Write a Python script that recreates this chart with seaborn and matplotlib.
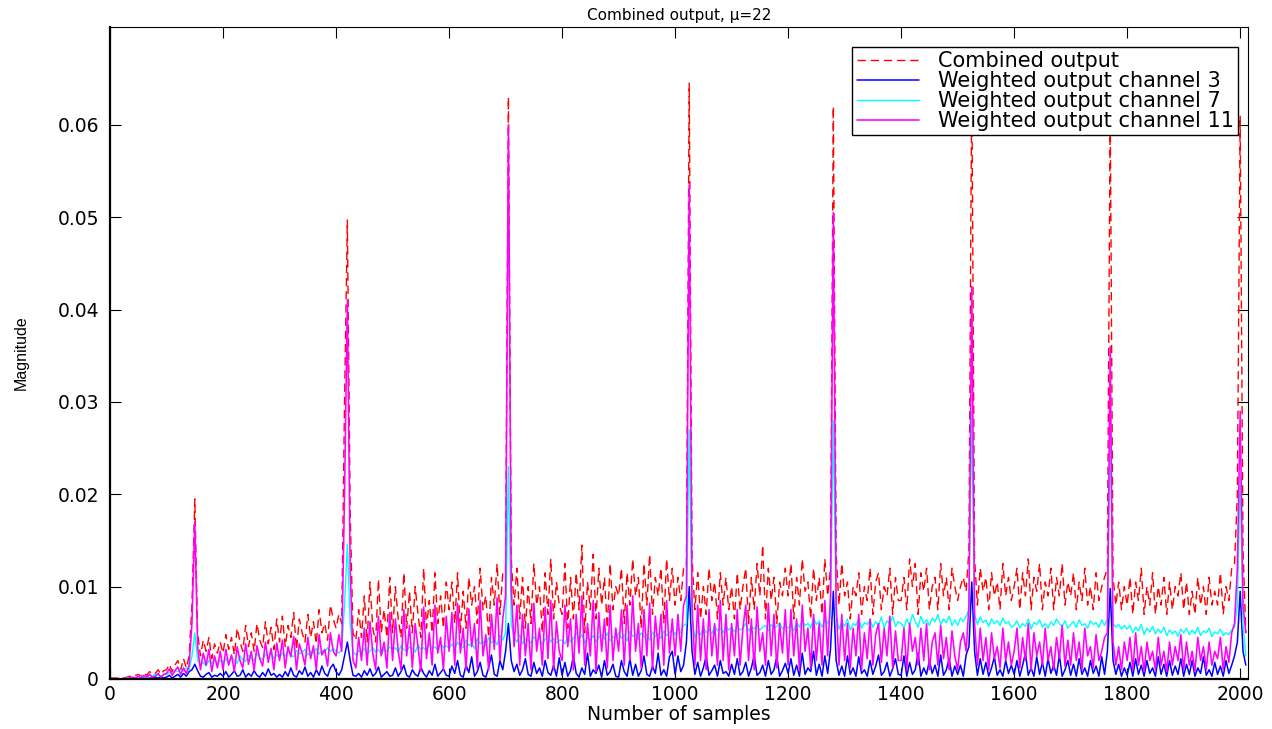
import numpy as np
import pandas as pd
import matplotlib
matplotlib.use("Agg")
import matplotlib.pyplot as plt
import seaborn as sns

sns.set_style("ticks")
plt.rcParams["font.family"] = ["DejaVu Sans"]
plt.rcParams["text.color"] = "black"
plt.rcParams["axes.labelcolor"] = "black"
plt.rcParams["xtick.color"] = "black"
plt.rcParams["ytick.color"] = "black"

# sample index, one value every 5 samples (0 .. 2010)
samples = list(range(0, 2015, 5))

# values, in units of 1e-3 (one row = 100 samples)
combined = [
    0.1, 0.1, 0.1, 0.1, 0.2, 0.1, 0.2, 0.3, 0.2, 0.4, 0.5, 0.3, 0.7, 0.4, 0.8, 0.5, 0.6, 1.0, 0.5, 0.9,
    1.0, 1.6, 0.8, 1.5, 2.0, 1.0, 2.2, 1.2, 2.5, 8.0, 19.5, 5.0, 2.5, 4.2, 3.0, 4.5, 2.2, 3.8, 2.8, 4.0,
    2.8, 4.8, 3.2, 4.5, 2.6, 5.5, 4.0, 3.0, 5.8, 3.5, 5.0, 3.0, 6.0, 4.2, 3.4, 6.2, 3.8, 5.6, 3.2, 6.5,
    4.0, 6.8, 3.5, 5.8, 4.5, 7.2, 3.2, 6.5, 5.0, 4.0, 7.0, 4.5, 6.2, 3.8, 7.5, 5.0, 6.0, 4.2, 8.0, 6.5,
    5.5, 7.0, 6.0, 30.0, 49.7, 18.0, 5.0, 4.2, 7.5, 4.5, 9.0, 4.0, 10.5, 5.5, 4.0, 10.8, 5.0, 7.5, 4.5, 11.0,
    5.0, 10.0, 6.5, 4.5, 11.5, 5.5, 9.5, 5.0, 10.0, 7.0, 4.5, 12.0, 5.5, 8.5, 5.0, 11.5, 6.0, 9.0, 5.5, 10.5,
    7.5, 10.5, 6.0, 11.5, 5.0, 9.5, 5.5, 11.0, 8.0, 10.0, 6.0, 12.0, 7.5, 9.0, 4.5, 11.0, 8.0, 12.5, 7.0, 11.5,
    11.5, 63.0, 13.0, 8.0, 12.0, 6.5, 11.0, 5.5, 10.0, 6.0, 12.5, 8.0, 10.0, 5.0, 11.5, 7.0, 13.0, 6.5, 10.5, 8.0,
    7.0, 12.5, 5.5, 11.0, 6.5, 11.5, 7.5, 14.5, 5.0, 10.5, 7.5, 13.5, 6.5, 12.0, 8.0, 11.0, 5.5, 12.5, 7.5, 10.0,
    9.0, 12.0, 6.0, 11.5, 8.0, 13.0, 9.0, 11.0, 5.5, 12.5, 8.0, 13.5, 7.0, 11.0, 9.0, 12.0, 6.0, 13.0, 8.5, 12.0,
    8.0, 11.0, 8.5, 12.0, 12.0, 64.5, 13.0, 7.5, 11.5, 6.5, 10.0, 7.0, 12.0, 8.5, 10.5, 6.5, 11.5, 8.0, 11.0, 7.5,
    10.0, 6.5, 11.5, 7.5, 10.0, 12.0, 6.0, 11.0, 7.5, 12.5, 9.0, 14.5, 6.5, 12.0, 8.5, 11.0, 6.0, 10.5, 9.0, 12.0,
    9.0, 12.5, 6.5, 11.0, 8.0, 13.0, 9.5, 10.5, 6.5, 12.0, 8.5, 11.0, 7.0, 13.0, 9.0, 12.0, 62.0, 13.5, 8.0, 12.5,
    9.0, 10.5, 6.5, 10.0, 9.0, 11.5, 7.0, 10.0, 8.5, 12.0, 7.0, 10.5, 11.5, 7.5, 10.0, 9.0, 12.0, 7.0, 11.0, 8.5,
    8.5, 11.0, 7.5, 13.0, 10.0, 12.5, 7.0, 11.5, 9.5, 12.0, 7.5, 10.0, 11.0, 7.5, 12.5, 9.0, 11.0, 7.5, 12.0, 10.0,
    8.5, 10.0, 11.0, 9.5, 14.0, 66.0, 13.0, 8.0, 12.0, 9.5, 11.0, 7.5, 11.5, 9.0, 10.5, 7.5, 12.5, 9.0, 11.0, 8.5,
    10.0, 12.0, 7.5, 11.5, 9.0, 13.0, 7.5, 11.0, 9.5, 12.5, 7.5, 10.5, 9.0, 12.0, 7.5, 11.0, 9.0, 12.5, 8.0, 10.5,
    9.0, 11.5, 7.5, 10.5, 8.5, 12.0, 8.0, 10.0, 7.5, 11.5, 8.5, 10.0, 11.0, 12.0, 62.0, 11.0, 8.0, 10.5, 7.5, 10.0,
    8.0, 11.0, 7.0, 10.5, 8.5, 12.0, 7.0, 10.0, 8.0, 11.5, 7.0, 10.0, 8.0, 11.0, 7.0, 10.5, 7.5, 10.0, 9.0, 11.5,
    7.5, 10.5, 7.0, 9.5, 7.0, 11.0, 8.0, 10.0, 7.0, 11.0, 8.0, 9.5, 8.0, 11.5, 7.0, 10.0, 8.5, 12.0, 12.5, 20.0,
    61.0, 14.0, 5.0,
]
channel_3 = [
    0, 0, 0, 0, 0, 0, 0, 0, 0, 0, 0, 0, 0.1, 0, 0.1, 0.1, 0.2, 0.1, 0.2, 0.1,
    0.2, 0.4, 0.1, 0.3, 0.5, 0.2, 0.6, 0.3, 0.8, 1.0, 1.6, 0.9, 0.3, 0.2, 0.5, 0.7, 0.2, 0.4, 0.3, 0.6,
    0.3, 0.8, 0.2, 0.5, 0.9, 0.3, 0.4, 1.0, 0.2, 0.6, 0.3, 0.9, 0.4, 0.2, 0.7, 0.3, 1.1, 0.4, 0.6, 0.2,
    0.5, 0.2, 0.8, 0.3, 1.2, 0.4, 0.2, 0.9, 0.5, 1.3, 0.3, 0.7, 0.2, 1.0, 0.4, 1.4, 0.6, 0.3, 1.2, 1.6,
    0.8, 0.4, 1.0, 2.5, 4.0, 2.0, 0.4, 0.3, 0.6, 0.2, 0.9, 0.4, 1.1, 0.3, 0.6, 1.3, 0.2, 0.5, 0.8, 0.3,
    0.4, 1.2, 0.3, 0.8, 1.5, 0.4, 0.2, 1.0, 0.5, 0.3, 1.3, 0.6, 0.2, 0.9, 0.4, 1.6, 0.3, 0.7, 1.1, 0.4,
    0.3, 1.4, 0.6, 2.0, 0.4, 0.2, 1.5, 0.7, 2.4, 0.3, 0.8, 1.8, 0.4, 0.2, 1.2, 2.6, 0.5, 0.3, 2.0, 1.0,
    3.0, 6.0, 2.0, 0.8, 1.6, 0.4, 1.0, 2.2, 0.5, 0.3, 1.8, 0.6, 1.2, 0.3, 2.0, 0.7, 0.4, 1.5, 0.3, 2.3,
    0.4, 1.8, 0.3, 0.9, 2.5, 0.6, 0.2, 1.2, 0.5, 2.8, 0.3, 1.0, 0.6, 1.5, 0.2, 2.0, 0.4, 0.8, 1.6, 0.3,
    0.2, 2.0, 0.8, 0.3, 2.2, 0.4, 1.6, 0.3, 0.9, 2.5, 0.5, 0.3, 1.4, 0.6, 2.8, 0.4, 1.0, 0.3, 2.4, 3.0,
    0.5, 2.5, 0.8, 1.5, 4.0, 10.0, 3.0, 0.5, 1.8, 0.3, 1.2, 2.5, 0.4, 0.9, 1.5, 0.3, 2.0, 0.6, 0.8, 0.3,
    1.6, 0.5, 2.2, 0.4, 0.8, 1.8, 0.3, 1.2, 2.6, 0.4, 0.7, 1.5, 0.3, 2.0, 0.5, 1.0, 2.4, 0.3, 0.9, 1.7,
    0.6, 2.2, 0.4, 1.5, 0.3, 2.8, 0.5, 1.2, 0.8, 3.0, 0.4, 1.6, 0.3, 2.5, 0.6, 3.2, 9.5, 2.0, 0.4, 1.4,
    0.3, 2.5, 0.5, 1.2, 0.3, 2.4, 0.6, 1.0, 0.3, 2.0, 0.5, 1.4, 2.6, 0.4, 0.8, 1.8, 0.3, 1.1, 2.2, 0.5,
    0.4, 2.5, 0.3, 1.8, 0.5, 1.0, 2.8, 0.3, 1.2, 0.5, 2.0, 0.6, 1.5, 0.3, 2.6, 0.4, 1.0, 2.2, 0.3, 1.4,
    0.5, 1.5, 0.3, 2.6, 3.5, 10.5, 3.0, 0.4, 2.2, 0.5, 1.8, 0.3, 1.2, 2.4, 0.4, 1.0, 0.3, 2.0, 0.6, 1.5,
    0.5, 2.0, 0.3, 1.5, 2.8, 0.4, 1.2, 0.3, 2.4, 0.5, 1.8, 0.3, 2.2, 0.6, 1.5, 0.4, 2.6, 0.3, 1.0, 2.0,
    0.4, 1.6, 0.3, 2.2, 0.5, 1.2, 0.3, 2.0, 0.6, 1.4, 0.3, 2.4, 0.5, 3.0, 9.8, 2.0, 0.5, 1.6, 0.3, 1.2,
    0.4, 1.8, 0.3, 2.2, 0.5, 1.5, 0.3, 2.0, 0.6, 1.2, 0.3, 2.4, 0.5, 1.6, 0.3, 2.0, 0.4, 1.4, 0.5, 2.2,
    0.3, 1.6, 0.5, 2.0, 0.3, 1.2, 0.6, 2.4, 0.4, 1.0, 0.3, 1.8, 0.5, 1.4, 0.3, 2.0, 0.6, 1.5, 2.5, 4.0,
    9.5, 3.0, 1.5,
]
channel_7 = [
    0, 0, 0, 0, 0, 0, 0.1, 0.1, 0.1, 0.2, 0.2, 0.3, 0.3, 0.2, 0.4, 0.3, 0.5, 0.4, 0.3, 0.5,
    0.5, 0.7, 0.6, 0.9, 0.8, 1.0, 0.9, 1.2, 1.0, 2.5, 5.0, 2.0, 1.5, 1.8, 1.4, 2.0, 1.7, 2.2, 1.6, 2.0,
    1.8, 2.2, 1.6, 2.4, 2.0, 1.7, 2.5, 2.1, 1.9, 2.6, 2.2, 2.0, 2.8, 2.3, 2.1, 2.7, 2.4, 2.9, 2.2, 2.6,
    2.3, 2.8, 2.5, 3.0, 2.6, 2.4, 3.1, 2.7, 2.9, 3.2, 2.6, 3.0, 2.8, 3.3, 2.7, 3.1, 2.9, 3.4, 3.0, 3.3,
    3.0, 2.8, 3.2, 8.0, 14.6, 6.0, 3.0, 2.6, 3.1, 2.8, 3.3, 2.7, 3.0, 3.4, 2.9, 3.2, 2.6, 3.3, 3.0, 3.5,
    3.1, 3.4, 2.9, 3.6, 3.2, 3.0, 3.5, 3.3, 2.9, 3.7, 3.2, 3.4, 3.0, 3.8, 3.3, 3.5, 3.1, 3.9, 3.4, 3.6,
    3.3, 3.8, 3.2, 4.0, 3.5, 3.4, 4.2, 3.6, 3.9, 3.3, 4.4, 3.8, 4.1, 3.6, 4.5, 3.9, 4.3, 3.7, 4.7, 4.2,
    5.0, 23.0, 6.0, 4.5, 4.0, 4.8, 3.8, 4.4, 4.2, 3.9, 4.6, 4.0, 4.5, 3.7, 4.3, 4.7, 4.0, 4.4, 3.9, 4.2,
    4.2, 3.8, 4.6, 4.0, 4.4, 5.0, 4.3, 4.8, 3.9, 4.5, 4.2, 4.7, 4.0, 4.5, 4.8, 4.3, 5.0, 4.1, 4.6, 4.4,
    5.0, 4.4, 4.8, 4.1, 5.2, 4.6, 4.9, 4.3, 5.0, 4.5, 4.8, 4.2, 5.1, 4.6, 4.9, 4.4, 5.2, 4.7, 5.0, 5.4,
    4.8, 5.5, 5.0, 5.8, 6.0, 27.0, 6.5, 4.5, 5.2, 4.8, 5.6, 5.0, 5.4, 4.9, 5.8, 5.2, 5.5, 5.0, 5.7, 5.3,
    5.6, 5.1, 5.8, 5.3, 5.5, 6.0, 5.2, 5.7, 5.4, 5.9, 5.3, 5.6, 5.8, 5.2, 5.9, 5.5, 5.7, 6.1, 5.4, 5.8,
    5.5, 6.0, 5.2, 6.2, 5.6, 6.4, 5.8, 6.0, 5.5, 6.6, 5.9, 6.3, 5.6, 6.5, 6.0, 6.8, 28.0, 7.0, 5.4, 6.2,
    5.7, 6.5, 5.3, 6.0, 5.8, 6.6, 5.5, 6.1, 5.9, 6.4, 5.6, 6.2, 5.8, 6.7, 5.5, 6.3, 6.0, 6.8, 5.7, 6.2,
    6.0, 5.5, 6.5, 5.8, 7.0, 6.2, 5.6, 6.8, 6.0, 6.4, 5.8, 6.6, 6.2, 7.0, 5.9, 6.5, 6.1, 6.8, 5.8, 6.4,
    5.8, 6.6, 6.2, 6.8, 7.5, 29.0, 7.0, 5.9, 6.7, 6.1, 6.4, 5.7, 6.5, 6.0, 6.3, 5.8, 6.6, 6.0, 6.2, 5.6,
    5.8, 6.3, 5.5, 6.0, 5.7, 6.5, 5.4, 6.1, 5.9, 6.4, 5.6, 6.0, 5.5, 6.2, 5.8, 6.5, 6.0, 5.7, 6.3, 5.5,
    5.9, 6.2, 5.6, 6.4, 5.8, 6.0, 5.5, 6.3, 5.9, 6.1, 5.6, 6.4, 5.8, 6.5, 27.0, 6.0, 5.6, 5.9, 5.4, 5.8,
    5.4, 5.8, 5.0, 5.6, 5.2, 5.9, 4.8, 5.5, 5.1, 5.7, 4.9, 5.4, 5.0, 5.6, 4.7, 5.3, 4.9, 5.2, 4.6, 5.4,
    5.0, 5.5, 4.8, 5.3, 4.9, 5.6, 4.7, 5.2, 5.0, 5.5, 4.6, 5.1, 4.9, 5.4, 4.7, 5.0, 4.8, 5.3, 5.6, 8.0,
    22.0, 6.0, 2.5,
]
channel_11 = [
    0, 0, 0, 0, 0, 0.1, 0, 0.1, 0.2, 0.1, 0.3, 0.1, 0.4, 0.2, 0.5, 0.2, 0.3, 0.6, 0.2, 0.5,
    0.6, 1.1, 0.4, 0.9, 1.3, 0.5, 1.2, 0.6, 1.5, 6.0, 17.0, 3.5, 1.0, 2.8, 1.5, 3.2, 0.8, 2.5, 1.2, 3.0,
    1.0, 3.2, 1.5, 2.6, 0.8, 3.5, 2.0, 1.2, 3.8, 1.6, 3.0, 0.9, 3.6, 2.2, 1.4, 4.0, 1.8, 3.3, 1.0, 3.9,
    2.0, 4.2, 1.2, 3.5, 2.4, 4.6, 1.0, 3.8, 2.8, 1.5, 4.5, 2.2, 3.6, 1.0, 4.8, 2.6, 3.2, 1.4, 5.0, 3.0,
    2.5, 4.8, 3.0, 20.0, 41.0, 12.0, 2.0, 1.2, 4.5, 2.0, 5.5, 1.5, 6.2, 2.8, 1.0, 6.8, 2.5, 4.0, 1.2, 7.2,
    2.0, 6.5, 3.0, 1.0, 7.5, 2.5, 5.8, 1.2, 6.0, 3.5, 0.8, 7.8, 2.2, 5.0, 1.5, 8.0, 2.8, 4.5, 1.0, 6.8,
    3.0, 7.2, 1.5, 8.2, 2.8, 5.5, 1.0, 7.6, 3.5, 6.0, 1.2, 8.5, 2.5, 4.8, 1.0, 7.0, 3.2, 8.8, 2.0, 6.5,
    9.0, 60.0, 10.0, 3.5, 8.0, 1.5, 7.0, 2.5, 6.0, 1.0, 8.2, 3.0, 5.5, 1.5, 7.8, 2.2, 8.5, 1.0, 6.2, 3.0,
    2.0, 8.0, 3.5, 6.5, 1.0, 7.0, 2.8, 9.0, 1.5, 6.0, 2.5, 8.5, 0.8, 7.2, 3.0, 6.5, 1.2, 8.0, 2.0, 5.5,
    3.0, 7.5, 1.5, 8.0, 2.0, 9.0, 3.0, 6.0, 1.2, 7.5, 2.5, 8.2, 1.0, 6.8, 3.2, 7.0, 1.5, 8.5, 2.8, 6.5,
    2.5, 7.0, 3.0, 8.0, 9.0, 53.5, 8.0, 1.5, 8.0, 2.0, 6.5, 1.0, 7.5, 2.5, 6.0, 1.5, 8.5, 2.0, 7.0, 1.0,
    6.0, 2.5, 7.5, 1.5, 5.5, 8.0, 2.0, 6.5, 1.0, 7.8, 3.0, 5.0, 1.5, 8.2, 2.5, 7.0, 1.2, 6.0, 2.8, 7.5,
    1.5, 7.5, 2.5, 6.5, 1.0, 8.0, 3.0, 5.5, 1.2, 7.0, 2.0, 6.0, 1.5, 8.5, 2.5, 9.0, 50.5, 8.0, 1.5, 7.0,
    2.0, 6.0, 1.2, 5.5, 2.5, 7.0, 1.0, 5.0, 2.2, 6.5, 1.5, 4.8, 6.0, 1.8, 5.5, 2.5, 6.8, 1.2, 5.2, 2.0,
    2.0, 5.5, 1.0, 6.0, 3.0, 4.5, 1.5, 5.5, 2.0, 6.0, 1.0, 4.0, 5.0, 1.5, 5.8, 2.2, 4.5, 1.0, 5.2, 2.5,
    1.0, 4.0, 5.0, 3.0, 8.0, 42.5, 6.0, 1.5, 5.5, 2.0, 4.5, 1.0, 5.0, 2.2, 3.5, 1.2, 5.5, 2.0, 4.0, 1.5,
    3.0, 5.5, 1.2, 4.5, 2.0, 6.0, 1.0, 5.0, 2.5, 4.0, 1.5, 5.5, 2.0, 3.5, 1.0, 4.5, 2.2, 5.8, 1.4, 4.2,
    1.5, 5.0, 2.0, 4.0, 1.0, 5.5, 2.5, 3.5, 1.2, 4.8, 2.0, 3.0, 4.5, 5.0, 36.0, 4.0, 1.5, 3.5, 1.0, 4.0,
    2.0, 4.5, 1.0, 5.0, 1.5, 3.5, 0.8, 4.0, 2.0, 3.0, 1.0, 4.5, 1.5, 3.0, 0.8, 4.0, 1.5, 3.5, 2.0, 4.8,
    1.0, 4.0, 1.5, 3.0, 0.8, 4.5, 2.0, 3.5, 1.0, 4.0, 1.5, 3.0, 2.2, 4.5, 1.0, 3.5, 1.8, 5.0, 6.0, 12.0,
    29.0, 8.0, 5.0,
]

x_ticks = [0, 200, 400, 600, 800, 1000, 1200, 1400, 1600, 1800, 2000]
y_ticks = [0, 0.01, 0.02, 0.03, 0.04, 0.05, 0.06]
y_tick_labels = ["0", "0.01", "0.02", "0.03", "0.04", "0.05", "0.06"]

df = pd.DataFrame({
    "sample": samples,
    "Combined output": np.array(combined) * 1e-3,
    "Weighted output channel 3": np.array(channel_3) * 1e-3,
    "Weighted output channel 7": np.array(channel_7) * 1e-3,
    "Weighted output channel 11": np.array(channel_11) * 1e-3,
})

fig = plt.figure(figsize=(12.72, 7.29), dpi=100)
ax = fig.add_axes([0.0865, 0.0686, 0.8947, 0.8944])

series = [
    ("Combined output", "#ff0000", 1.0),
    ("Weighted output channel 3", "#0000ff", 1.1),
    ("Weighted output channel 7", "#00ffff", 1.0),
    ("Weighted output channel 11", "#ff00ff", 1.15),
]
for name, col, lw in series:
    sns.lineplot(data=df, x="sample", y=name, ax=ax, color=col,
                 linewidth=lw, label=name)
ax.lines[0].set_dashes((6, 3.5))

ax.set_xlim(0, 2014)
ax.set_ylim(0, 0.0706)
ax.set_xticks(x_ticks)
ax.set_yticks(y_ticks)
ax.set_yticklabels(y_tick_labels)
ax.tick_params(direction="in", top=True, right=True, length=8, width=0.8,
               labelsize=13.5, colors="black")
ax.tick_params(axis="y", pad=8)
ax.tick_params(axis="x", pad=4)
for side, s in ax.spines.items():
    s.set_color("black")
    s.set_linewidth(1.6 if side in ("left", "bottom") else 0.8)

ax.set_title("Combined output, μ=22", fontsize=11, pad=5, color="black")
ax.set_xlabel("Number of samples", fontsize=13.5, labelpad=1)
ax.set_ylabel("Magnitude", fontsize=11.5, fontfamily="Liberation Sans")
ax.yaxis.set_label_coords(-0.071, 0.5)

leg = ax.legend(loc="upper right", bbox_to_anchor=(0.9912, 0.9693), fontsize=15,
                frameon=True, fancybox=False, edgecolor="black", framealpha=1,
                borderpad=0.2, labelspacing=0.0, handlelength=3.0,
                handletextpad=0.9, borderaxespad=0)
leg.get_frame().set_linewidth(1.0)

fig.savefig("out.png", dpi=100)
